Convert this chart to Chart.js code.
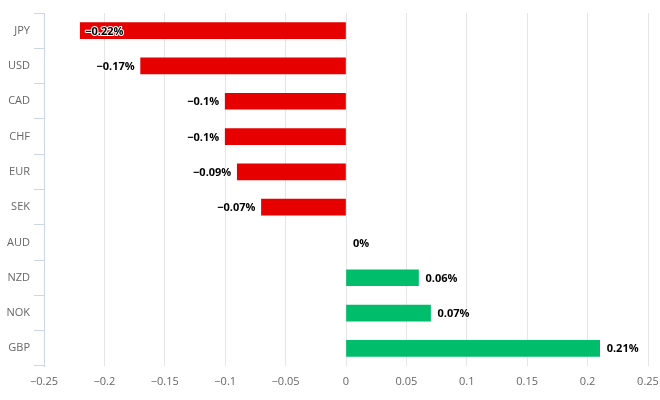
<!DOCTYPE html>
<html>
<head>
<meta charset="utf-8">
<script src="https://cdn.jsdelivr.net/npm/chart.js@4"></script>
<style>
  html, body { margin: 0; padding: 0; background: #fff; }
  #wrap { width: 660px; height: 400px; }
</style>
</head>
<body>
<div id="wrap"><canvas id="chartCanvas"></canvas></div>
<script>
// currencies top to bottom, and their change in percent
var currencies = ['JPY', 'USD', 'CAD', 'CHF', 'EUR', 'SEK', 'AUD', 'NZD', 'NOK', 'GBP']
var changes = [-0.22, -0.17, -0.1, -0.1, -0.09, -0.07, 0, 0.06, 0.07, 0.21]

var red = '#e60000'
var green = '#00bd6b'
var fontName = '"Open Sans", Arial, sans-serif'

function fmt(v) {
    // the picture uses a real minus sign
    var s = String(Math.abs(v))
    return (v < 0 ? '\u2212' : '') + s
}

// draws the "-0.22%" labels at the end of each bar
var barLabels = {
    id: 'barLabels',
    afterDatasetsDraw(chart) {
        var ctx = chart.ctx
        var area = chart.chartArea
        var meta = chart.getDatasetMeta(0)
        ctx.save()
        ctx.font = 'bold 11px ' + fontName
        ctx.textBaseline = 'middle'
        ctx.lineJoin = 'round'
        meta.data.forEach((bar, i) => {
            var v = changes[i]
            var text = fmt(v) + '%'
            var w = ctx.measureText(text).width
            var x, align
            if (v < 0) {
                x = bar.x - 6
                align = 'right'
                if (x - w < area.left) { x = bar.x + 5; align = 'left' }
            } else {
                x = bar.x + 7
                align = 'left'
            }
            ctx.textAlign = align
            ctx.strokeStyle = '#ffffff'
            ctx.lineWidth = 2
            ctx.strokeText(text, x, bar.y + 1)
            ctx.fillStyle = '#000000'
            ctx.fillText(text, x, bar.y + 1)
        })
        ctx.restore()
    }
}

var myChart = new Chart(document.getElementById('chartCanvas'), {
    type: 'bar',
    data: {
        labels: currencies,
        datasets: [{
            data: changes,
            backgroundColor: changes.map(v => v < 0 ? red : (v > 0 ? green : 'rgba(0,0,0,0)')),
            barThickness: 16,
            borderWidth: 0
        }]
    },
    options: {
        indexAxis: 'y',
        responsive: true,
        maintainAspectRatio: false,
        animation: false,
        layout: { padding: { top: 13, right: 12, left: 0, bottom: 0 } },
        plugins: {
            legend: { display: false },
            tooltip: { enabled: false }
        },
        scales: {
            x: {
                min: -0.25,
                max: 0.25,
                afterFit: s => { s.height = 34; s.paddingLeft = 0; s.paddingRight = 0 },
                ticks: {
                    stepSize: 0.05,
                    color: '#666666',
                    font: { family: fontName, size: 11 },
                    padding: 9,
                    callback: v => fmt(Math.round(v * 100) / 100)
                },
                grid: { color: '#e6e6e6', drawTicks: false },
                border: { display: false }
            },
            y: {
                afterFit: s => { s.width = 44 },
                ticks: {
                    color: '#666666',
                    font: { family: fontName, size: 11 },
                    padding: 4
                },
                grid: {
                    offset: true,
                    drawOnChartArea: false,
                    tickLength: 10,
                    color: '#ccd6eb'
                },
                border: { color: '#ccd6eb' }
            }
        }
    },
    plugins: [barLabels]
})
</script>
</body>
</html>
